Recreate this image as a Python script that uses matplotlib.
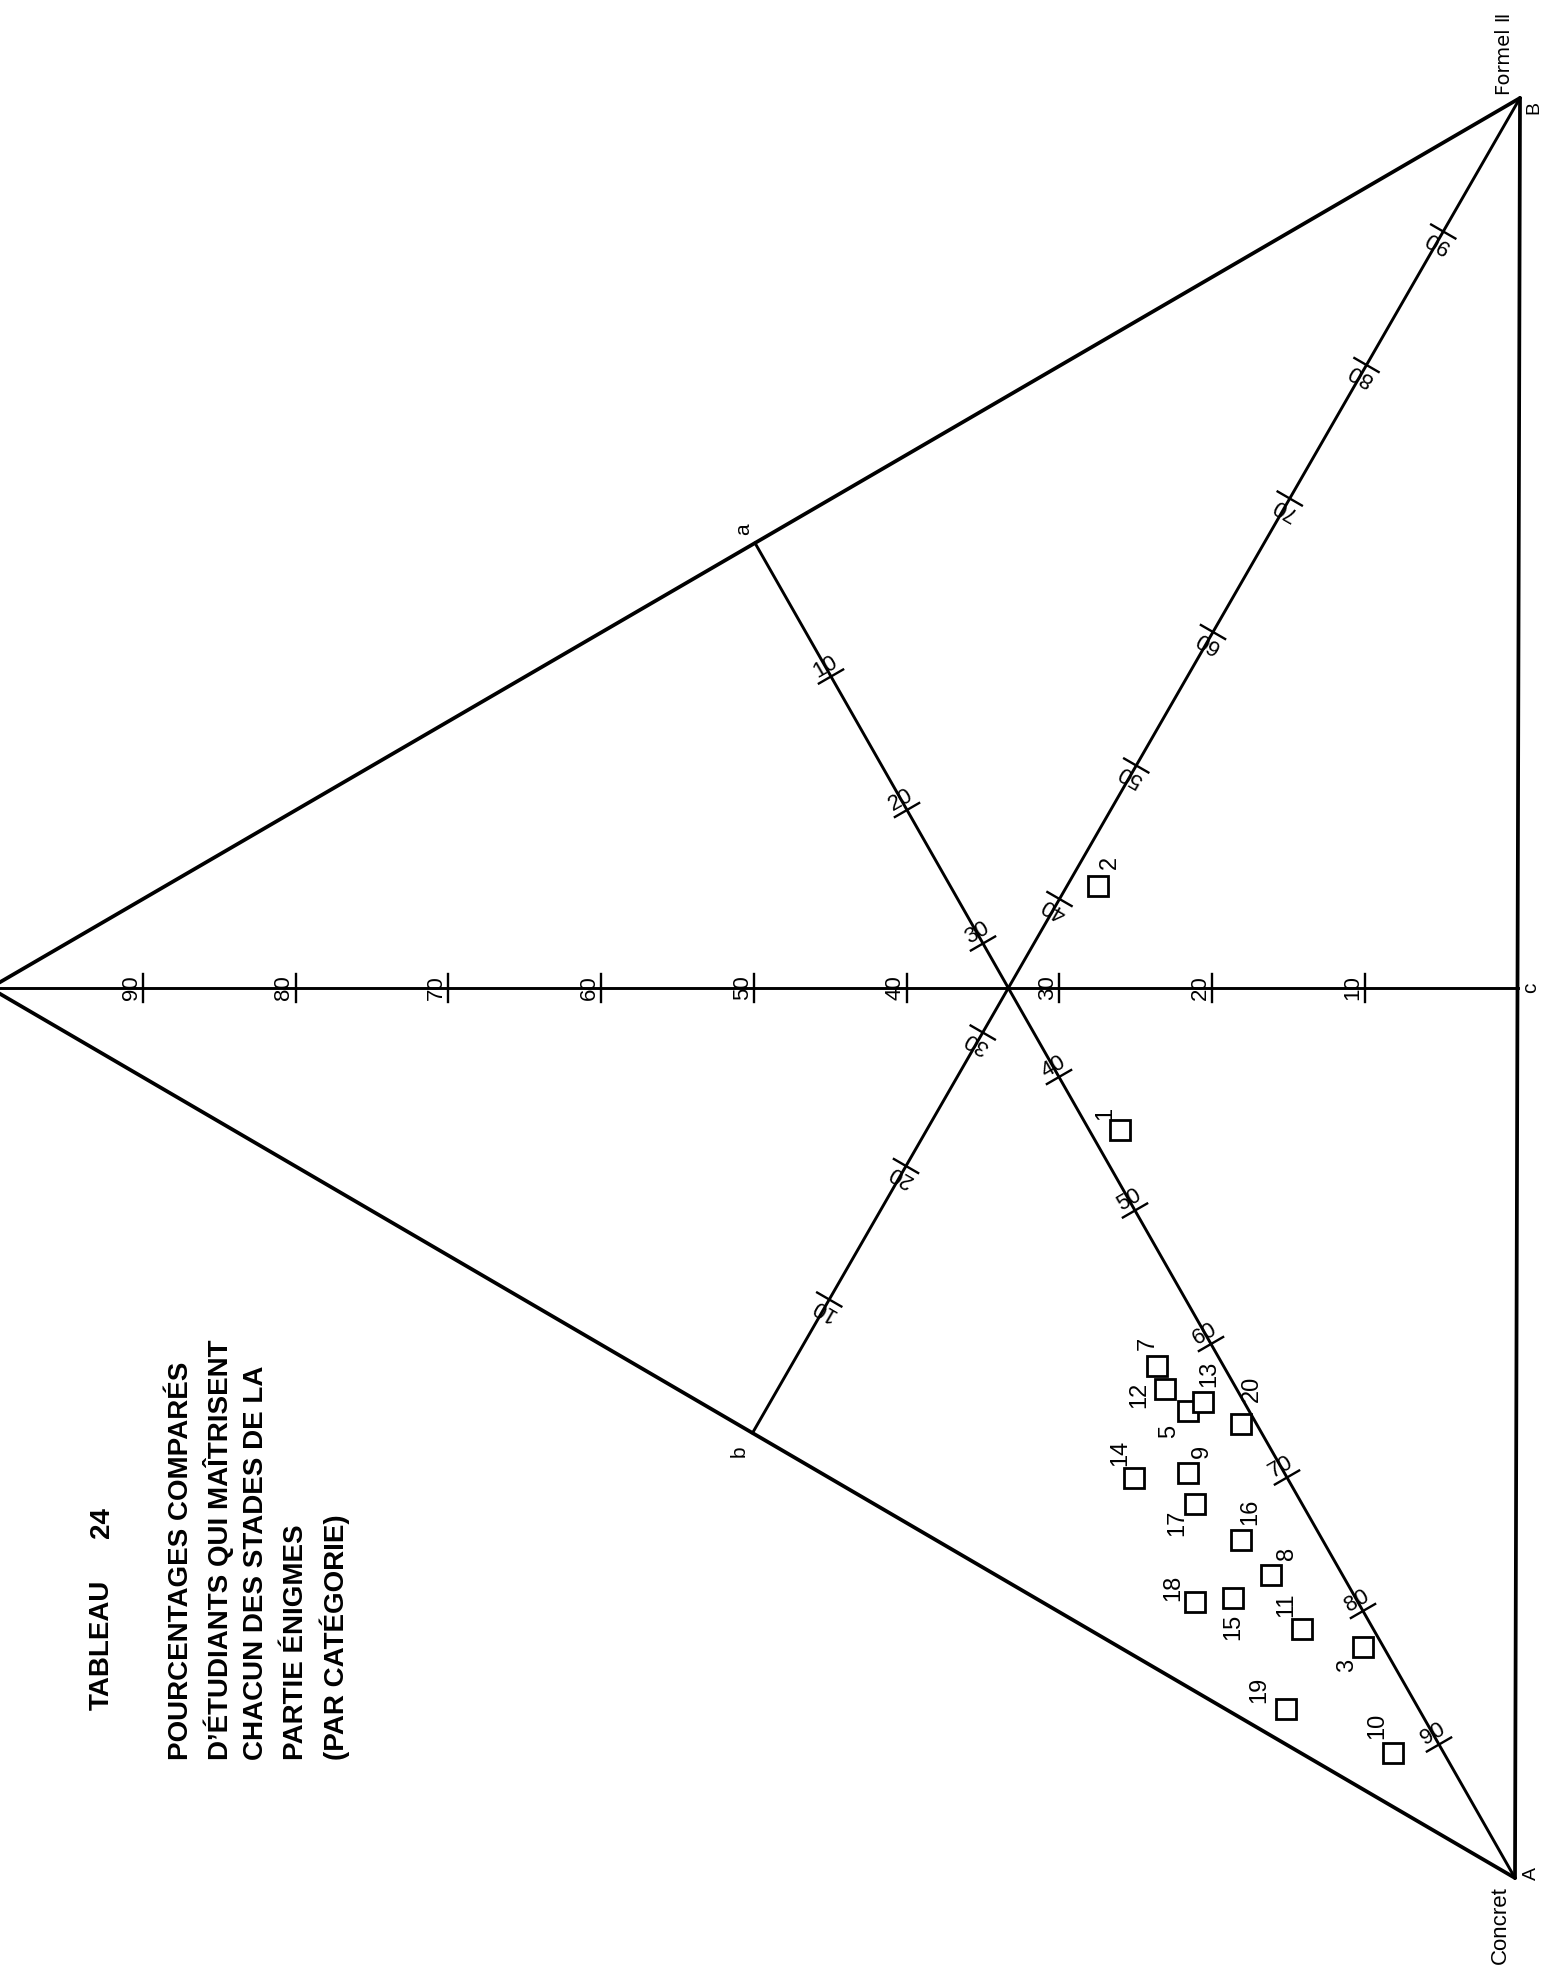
import numpy as np
import matplotlib.pyplot as plt

plt.rcParams["font.family"] = ["Liberation Sans", "DejaVu Sans"]

# -------------------------
# DATA : percentages per category
# (Concret = vertex A, Formel II = vertex B, third stage = left apex)
# -------------------------
cat_ids = [1, 2, 3, 5, 7, 8, 9, 10, 11, 12, 13, 14, 15, 16, 17, 18, 19, 20]
pct_concret = [45, 30.5, 82, 63, 59.5, 75, 66.5, 89, 79, 61, 63, 65, 75, 72, 68.5, 74, 83, 65.5]
pct_formel2 = [29, 42, 8, 15.5, 17, 9, 12, 3, 7, 16, 16.5, 10, 6.5, 10, 10.5, 5, 2, 16.5]
pct_apex = [26, 27.5, 10, 21.5, 23.5, 16, 21.5, 8, 14, 23, 20.5, 25, 18.5, 18, 21, 21, 15, 18]

scale_values = [10, 20, 30, 40, 50, 60, 70, 80, 90]

# -------------------------
# LAYOUT (page in pixels, the sheet is turned sideways)
# -------------------------
A = np.array([1515.0, 1878.0])
B = np.array([1520.0, 98.0])
C = np.array([-10.0, 988.0])
a = (C + B) / 2
b = (C + A) / 2
c = (A + B) / 2

# label offset (dx, dy) of each category number from its square
label_offset = {
    1: (-15, -17), 2: (12, -23), 3: (-16, 19), 5: (-19, 21), 7: (-10, -23),
    8: (16, -22), 9: (14, -22), 10: (-16, -28), 11: (-16, -24), 12: (-26, 6),
    13: (6, -28), 14: (-14, -25), 15: (0, 29), 16: (9, -28), 17: (-18, 19),
    18: (-22, -14), 19: (-27, -19), 20: (11, -35),
}


def tern_xy(pa, pb, pc):
    w = np.array([pa, pb, pc], dtype=float) / 100.0
    return w[0] * A + w[1] * B + w[2] * C


fig = plt.figure(figsize=(15.45, 19.70), dpi=100)
ax = fig.add_axes([0, 0, 1, 1])
ax.set_xlim(0, 1545)
ax.set_ylim(1970, 0)
ax.axis("off")

# triangle
for p, q in [(C, A), (C, B), (A, B)]:
    ax.plot([p[0], q[0]], [p[1], q[1]], color="black", lw=2.7, solid_capstyle="round")

# medians with their scales (0 at the foot, 100 at the vertex)
medians = [(c, C, 90), (a, A, 30), (b, B, 150)]
for foot, vert, rot in medians:
    ax.plot([foot[0], vert[0]], [foot[1], vert[1]], color="black", lw=2.1)
    th = np.radians(rot)
    tick_dir = np.array([np.cos(th), -np.sin(th)])
    up_dir = np.array([-np.sin(th), -np.cos(th)])
    for v in scale_values:
        p = foot + v / 100.0 * (vert - foot)
        t0 = p - 14 * tick_dir
        t1 = p + 14 * tick_dir
        ax.plot([t0[0], t1[0]], [t0[1], t1[1]], color="black", lw=1.7)
        tp = p + 1.0 * up_dir
        ax.text(tp[0], tp[1], str(v), rotation=rot, rotation_mode="anchor",
                ha="center", va="bottom", fontsize=16)

# vertex / foot letters
ax.text(1534, 107, "B", rotation=90, ha="center", va="center", fontsize=14)
ax.text(1505, 95, "Formel Ⅱ", rotation=90, ha="center", va="bottom", fontsize=14,
        family=["DejaVu Sans"])
ax.text(1531, 1873, "A", rotation=90, ha="center", va="center", fontsize=14)
ax.text(1500, 1886, "Concret", rotation=90, ha="center", va="top", fontsize=16)
ax.text(1531, 988, "c", rotation=90, ha="center", va="center", fontsize=15)
ax.text(744, 529, "a", rotation=90, ha="center", va="center", fontsize=15)
ax.text(739, 1451, "b", rotation=90, ha="center", va="center", fontsize=15)

# categories
pts = np.array([tern_xy(pa, pb, pc) for pa, pb, pc in zip(pct_concret, pct_formel2, pct_apex)])
ax.plot(pts[:, 0], pts[:, 1], "s", ms=14.5, mfc="white", mec="black", mew=2.0, zorder=3)
for cid, (x, y) in zip(cat_ids, pts):
    dx, dy = label_offset[cid]
    ax.text(x + dx, y + dy, str(cid), rotation=90, ha="center", va="center", fontsize=17)

# title block
ax.text(102, 1710, "TABLEAU", rotation=90, ha="center", va="bottom",
        fontsize=20, fontweight="bold")
ax.text(102, 1523, "24", rotation=90, ha="center", va="center",
        fontsize=20, fontweight="bold")
title_lines = [
    "POURCENTAGES COMPARÉS",
    "D’ÉTUDIANTS QUI MAÎTRISENT",
    "CHACUN DES STADES DE LA",
    "PARTIE ÉNIGMES",
    "(PAR CATÉGORIE)",
]
line_x = [181, 218, 256, 296, 335]
for lx, line in zip(line_x, title_lines):
    ax.text(lx, 1760, line, rotation=90, ha="center", va="bottom",
            fontsize=20, fontweight="bold")

fig.savefig("out.png", dpi=100, facecolor="white")
